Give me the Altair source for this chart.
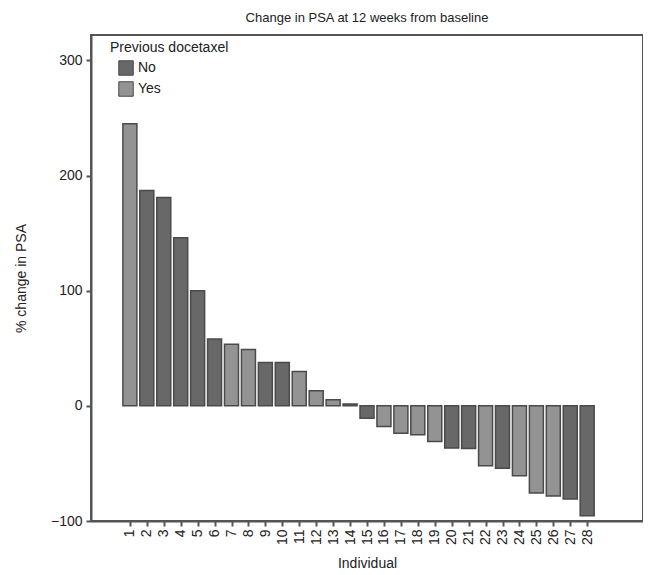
import altair as alt
import pandas as pd

individuals = list(range(1, 29))
pct_change = [245, 187, 181, 146, 100, 58, 53.5, 49, 37.6, 37.6, 29.8, 13, 5.2, 1.7,
              -10.7, -17.9, -23.7, -25.1, -30.9, -36.7, -37, -52, -54.3, -60.7,
              -75.7, -78.3, -81, -95.4]
docetaxel = ["Yes", "No", "No", "No", "No", "No", "Yes", "Yes", "No", "No", "Yes", "Yes", "Yes", "No",
             "No", "Yes", "Yes", "Yes", "Yes", "No", "No", "Yes", "No", "Yes",
             "Yes", "Yes", "No", "No"]
y_ticks = [-100, 0, 100, 200, 300]

df = pd.DataFrame({"Individual": individuals, "Change": pct_change, "Previous docetaxel": docetaxel})

font = "Liberation Sans"

chart = alt.Chart(df).mark_bar(size=14, stroke="#4a4a4a", strokeWidth=1.5).encode(
    x=alt.X("Individual:Q",
            scale=alt.Scale(domain=[-1, 31], nice=False, zero=False),
            axis=alt.Axis(values=individuals, format="d", labelAngle=270, title="Individual",
                          grid=False, tickSize=5, labelPadding=3, titlePadding=12)),
    y=alt.Y("Change:Q",
            scale=alt.Scale(domain=[-100, 322], nice=False),
            axis=alt.Axis(values=y_ticks, title="% change in PSA", grid=False,
                          tickSize=5, labelPadding=4, titlePadding=22)),
    color=alt.Color("Previous docetaxel:N",
                    scale=alt.Scale(domain=["No", "Yes"], range=["#686868", "#939393"]),
                    legend=alt.Legend(orient="none", legendX=19, legendY=6,
                                      symbolType="square", symbolSize=210,
                                      symbolStrokeColor="#4a4a4a", symbolStrokeWidth=1,
                                      symbolOffset=8, rowPadding=1,
                                      titleFontSize=14, labelFontSize=14,
                                      titleFontWeight="normal", titleColor="#222",
                                      labelColor="#222", titleFont=font, labelFont=font)),
).properties(
    width=552, height=486,
    title=alt.TitleParams("Change in PSA at 12 weeks from baseline", fontSize=13,
                          fontWeight="normal", font=font, color="#222", offset=10),
    autosize=alt.AutoSizeParams(type="none"),
    padding={"left": 83, "top": 27, "right": 0, "bottom": 54},
).configure_view(
    stroke="#555", strokeWidth=2
).configure_axis(
    domainColor="#555", domainWidth=2, tickColor="#555", tickWidth=2,
    labelFont=font, titleFont=font, labelFontSize=14, titleFontSize=14,
    labelColor="#222", titleColor="#222", titleFontWeight="normal"
)

chart.save("out.html", embed_options={"renderer": "svg", "actions": False})
